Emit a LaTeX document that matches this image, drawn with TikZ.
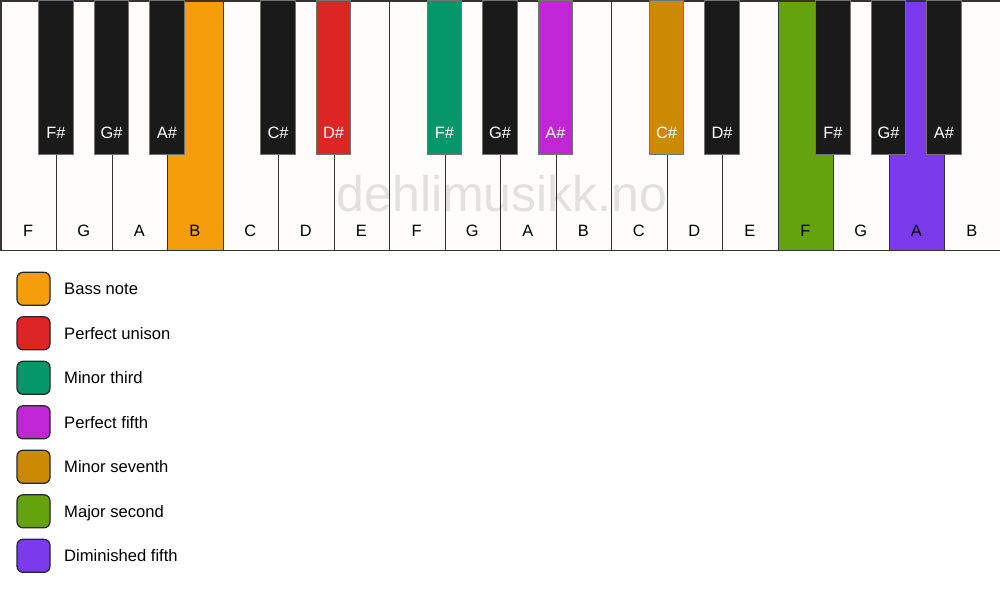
\documentclass[tikz,border=0pt]{standalone}
\usepackage{fontspec}
\setmainfont{Liberation Sans}
\definecolor{keywhite}{HTML}{FFFDF9}
\definecolor{keyblack}{HTML}{1A1A1A}
\definecolor{cbass}{HTML}{F59E0B}
\definecolor{cunison}{HTML}{DC2626}
\definecolor{cminthird}{HTML}{059669}
\definecolor{cfifth}{HTML}{C026D3}
\definecolor{cminsev}{HTML}{CA8A04}
\definecolor{cmajsec}{HTML}{65A30D}
\definecolor{cdimfifth}{HTML}{7C3AED}
\begin{document}
\begin{tikzpicture}[x=1pt,y=-1pt,
  whitekey/.style={draw=black!80, line width=1.2pt, fill=keywhite, rectangle, inner sep=0pt,
    minimum width=55.556pt, minimum height=249pt, anchor=north west},
  blackkey/.style={draw=black!55, line width=0.8pt, fill=keyblack, rectangle, inner sep=0pt,
    minimum width=34.5pt, minimum height=153pt, anchor=north},
  wlabel/.style={anchor=base, inner sep=0pt, font=\fontsize{16.4}{19}\selectfont, text=black},
  blabel/.style={anchor=base, inner sep=0pt, font=\fontsize{16.4}{19}\selectfont, text=white},
  legbox/.style={draw=black!85, line width=1.2pt, rounded corners=6pt, rectangle, inner sep=0pt,
    minimum width=33pt, minimum height=33pt},
  legtext/.style={anchor=base west, inner sep=0pt, font=\fontsize{16.6}{19}\selectfont, text=black}
]
\fill[white] (0,0) rectangle (1000,594);
\useasboundingbox (0,0) rectangle (1000,594);
% white keys
\foreach \i/\n/\c in {0/F/keywhite,1/G/keywhite,2/A/keywhite,3/B/cbass,4/C/keywhite,5/D/keywhite,6/E/keywhite,
  7/F/keywhite,8/G/keywhite,9/A/keywhite,10/B/keywhite,11/C/keywhite,12/D/keywhite,13/E/keywhite,
  14/F/cmajsec,15/G/keywhite,16/A/cdimfifth,17/B/keywhite}{
  \node[whitekey, fill=\c] (w\i) at ({0.5+\i*55.5},0.5) {};
  \node[wlabel] (wl\i) at ({0.5+\i*55.5+27.75},236) {\n};
}
% watermark
\node[anchor=base, inner sep=0pt, font=\fontsize{50}{60}\selectfont, text=black, opacity=0.11] (wm) at (502,211) {dehlimusikk.no};
% black keys
\foreach \b/\n/\c in {1/F\#/keyblack,2/G\#/keyblack,3/A\#/keyblack,5/C\#/keyblack,6/D\#/cunison,
  8/F\#/cminthird,9/G\#/keyblack,10/A\#/cfifth,12/C\#/cminsev,13/D\#/keyblack,
  15/F\#/keyblack,16/G\#/keyblack,17/A\#/keyblack}{
  \node[blackkey, fill=\c] (b\b) at ({0.5+\b*55.5},0.5) {};
  \node[blabel] (bl\b) at ({0.5+\b*55.5},138.5) {\n};
}
% legend
\foreach \k/\c/\t in {0/cbass/Bass note,1/cunison/Perfect unison,2/cminthird/Minor third,
  3/cfifth/Perfect fifth,4/cminsev/Minor seventh,5/cmajsec/Major second,6/cdimfifth/Diminished fifth}{
  \node[legbox, fill=\c] (lb\k) at (33.5,{288.8+44.5*\k}) {};
  \node[legtext] (lt\k) at (64,{294.8+44.5*\k}) {\t};
}
\end{tikzpicture}
\end{document}
